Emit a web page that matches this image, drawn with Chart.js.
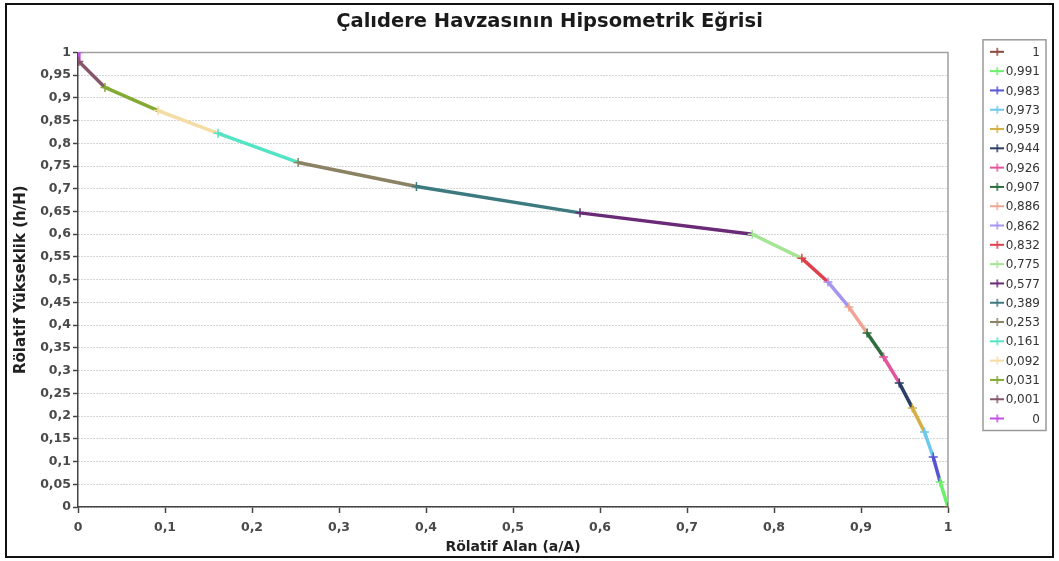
<!DOCTYPE html>
<html>
<head>
<meta charset="utf-8">
<script src="https://cdn.jsdelivr.net/npm/chart.js@4.4.1/dist/chart.umd.min.js"></script>
<style>
  html, body { margin: 0; padding: 0; background: #fff; }
  #wrap { width: 1059px; height: 561px; position: relative; }
</style>
</head>
<body>
<div id="wrap"><canvas id="hipso"></canvas></div>
<script>
// Seri adları (lejant), rölatif alan ve rölatif yükseklik değerleri
const seriAdlari = ['1', '0,991', '0,983', '0,973', '0,959', '0,944', '0,926', '0,907', '0,886', '0,862',
                    '0,832', '0,775', '0,577', '0,389', '0,253', '0,161', '0,092', '0,031', '0,001', '0'];
const alan = [1, 0.991, 0.983, 0.973, 0.959, 0.944, 0.926, 0.907, 0.886, 0.862,
              0.832, 0.775, 0.577, 0.389, 0.253, 0.161, 0.092, 0.031, 0.001, 0];
const yukseklik = [0, 0.055, 0.11, 0.165, 0.218, 0.273, 0.33, 0.383, 0.44, 0.495,
                   0.547, 0.6, 0.647, 0.705, 0.758, 0.822, 0.872, 0.923, 0.98, 1];
const renkler = ['#8b4a3c', '#6cf06c', '#5454d4', '#6cc8ec', '#d4b044', '#2a3e66', '#e4549c', '#2e6e3e', '#f0a494', '#a694f0',
                 '#e0404e', '#a4e494', '#6a2a78', '#3c7a80', '#8a8262', '#54e4c4', '#f4dca4', '#84aa34', '#84566a', '#c04ee4'];

const FONT = '"DejaVu Sans", "Liberation Sans", Arial, sans-serif';
const fmt = v => String(parseFloat(Number(v).toFixed(2))).replace('.', ',');

// Lejant işareti: çizgi + artı
function lejantIsareti(renk) {
    const c = document.createElement('canvas');
    c.width = 14; c.height = 10;
    const g = c.getContext('2d');
    g.strokeStyle = renk;
    g.lineWidth = 2;
    g.beginPath(); g.moveTo(0, 5); g.lineTo(14, 5); g.stroke();
    g.lineWidth = 1.5;
    g.beginPath(); g.moveTo(7, 1); g.lineTo(7, 9); g.stroke();
    return c;
}

// Her seri kendi noktasından bir önceki (daha büyük) noktaya uzanır
const datasets = seriAdlari.map((ad, i) => {
    const data = [{ x: alan[i], y: yukseklik[i] }];
    if (i > 0) data.push({ x: alan[i - 1], y: yukseklik[i - 1] });
    return {
        label: ad,
        data: data,
        borderColor: renkler[i],
        backgroundColor: renkler[i],
        borderWidth: 3.5,
        pointStyle: 'cross',
        pointRadius: ctx => ctx.dataIndex === 0 ? 4.5 : 0,
        pointBorderWidth: 1.5,
        pointBorderColor: renkler[i],
        tension: 0
    };
});

// Dış çerçeve, çizim alanı kenarı ve lejant kutusu
const cerceve = {
    id: 'cerceve',
    afterLayout(chart) {
        // başlığı ve lejantı referanstaki yerlerine taşı
        chart.titleBlock.left = 8;
        chart.titleBlock.right = 1091;
        const lg = chart.legend;
        const w = lg.width, h = lg.height;
        lg.left = 983; lg.right = 983 + w;
        lg.top = 38.5; lg.bottom = 38.5 + h;
    },
    beforeDatasetsDraw(chart) {
        const { ctx, chartArea: a } = chart;
        ctx.save();
        ctx.strokeStyle = '#a0a0a0';
        ctx.lineWidth = 1.5;
        ctx.beginPath();
        ctx.moveTo(a.left, a.top); ctx.lineTo(a.right, a.top); ctx.lineTo(a.right, a.bottom);
        ctx.stroke();
        ctx.restore();
    },
    afterDraw(chart) {
        const { ctx } = chart;
        ctx.save();
        ctx.strokeStyle = '#111';
        ctx.lineWidth = 2;
        ctx.strokeRect(6, 4, 1047, 553);
        // lejant kutusu ve sağa yaslı yazılar
        const kutular = chart.legend.legendHitBoxes;
        const sol = 983;
        const ust = Math.min(...kutular.map(b => b.top)) - 6;
        const alt = Math.max(...kutular.map(b => b.top + b.height)) + 6;
        const sag = 1046;
        ctx.strokeStyle = '#9a9a9a';
        ctx.lineWidth = 1.5;
        ctx.strokeRect(sol, ust, sag - sol, alt - ust);
        ctx.fillStyle = '#333';
        ctx.font = '12px ' + FONT;
        ctx.textAlign = 'right';
        ctx.textBaseline = 'middle';
        kutular.forEach((b, i) => ctx.fillText(seriAdlari[i], sag - 6, b.top + b.height / 2 + 1));
        ctx.restore();
    }
};

const ctx = document.getElementById('hipso').getContext('2d');
const chart = new Chart(ctx, {
    type: 'line',
    data: { datasets: datasets },
    plugins: [cerceve],
    options: {
        responsive: true,
        maintainAspectRatio: false,
        animation: false,
        layout: { padding: { left: 8, right: 111, top: 0, bottom: 4 } },
        font: { family: FONT },
        plugins: {
            title: {
                display: true,
                text: 'Çalıdere Havzasının Hipsometrik Eğrisi',
                color: '#1a1a1a',
                font: { size: 19.5, weight: 'bold', family: FONT },
                padding: { top: 10, bottom: 19 }
            },
            legend: {
                position: 'chartArea',
                align: 'start',
                labels: {
                    usePointStyle: true,
                    pointStyleWidth: 14,
                    color: 'rgba(0,0,0,0)',
                    font: { size: 12, family: FONT },
                    padding: 7.3,
                    generateLabels: ch => ch.data.datasets.map((d, i) => ({
                        text: seriAdlari[i],
                        pointStyle: lejantIsareti(renkler[i]),
                        fillStyle: renkler[i],
                        strokeStyle: renkler[i],
                        fontColor: 'rgba(0,0,0,0)',
                        lineWidth: 0,
                        datasetIndex: i
                    }))
                }
            },
            tooltip: { enabled: false }
        },
        scales: {
            x: {
                type: 'linear',
                min: 0,
                max: 1,
                afterFit: s => { s.height = 50; },
                ticks: { stepSize: 0.1, callback: fmt, color: '#4a4a4a', font: { size: 12.5, weight: 'bold', family: FONT }, padding: 7, maxRotation: 0 },
                grid: { drawOnChartArea: false, tickLength: 6, tickColor: '#444', tickWidth: 1.5 },
                border: { color: '#444', width: 1.5 },
                title: {
                    display: true,
                    text: 'Rölatif Alan (a/A)',
                    color: '#222',
                    font: { size: 14, weight: 'bold', family: FONT },
                    padding: { top: 0, bottom: 1 }
                }
            },
            y: {
                min: 0,
                max: 1,
                afterFit: s => { s.width = 70; },
                ticks: { stepSize: 0.05, callback: fmt, color: '#4a4a4a', font: { size: 12.5, weight: 'bold', family: FONT }, padding: 2 },
                grid: { color: '#aaaaaa', lineWidth: 1, tickLength: 5, tickColor: '#444', tickWidth: 1.5 },
                border: { color: '#444', width: 1.5, dash: [1, 2] },
                title: {
                    display: true,
                    text: 'Rölatif Yükseklik (h/H)',
                    color: '#222',
                    font: { size: 15, weight: 'bold', family: FONT },
                    padding: { top: 4, bottom: 0 }
                }
            }
        }
    }
});
</script>
</body>
</html>
